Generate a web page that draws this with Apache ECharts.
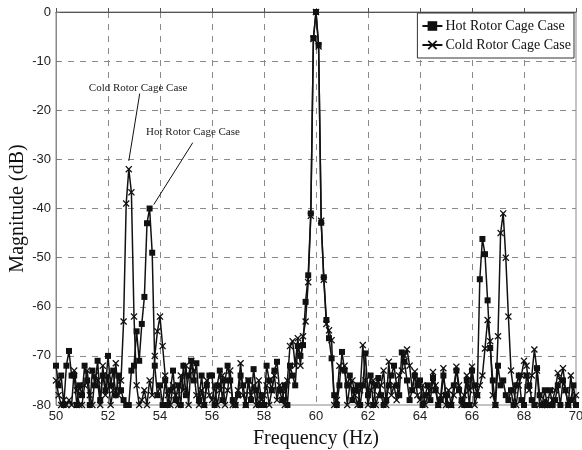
<!DOCTYPE html>
<html>
<head>
<meta charset="utf-8">
<script src="https://cdn.jsdelivr.net/npm/echarts@6/dist/echarts.min.js"></script>
<style>
html,body{margin:0;padding:0;background:#fff;}
#chart{width:582px;height:450px;}
</style>
</head>
<body>
<div id="chart"></div>
<script>
// Frequency grid of the spectrum (Hz): start and bin step
var freqStart = 50;
var freqStep = 0.1;

var seriesNames = ['Hot Rotor Cage Case', 'Cold Rotor Cage Case'];

// Magnitude (dB), one value per 0.1 Hz bin from 50.0 to 70.0 Hz
var hotRotor = [
  -72, -76, -74, -80, -72, -69, -74, -74, -80, -76,
  -78, -72, -75, -80, -73, -76, -71, -79, -74, -77,
  -70, -76, -73, -78, -74, -77, -79, -80, -80, -73,
  -72, -65, -71, -63.5, -58, -43, -40, -49, -72, -78,
  -76, -80, -75, -80, -77, -73, -79, -76, -80, -72,
  -78, -74, -71, -75, -71.5, -79, -74, -80, -76, -74,
  -74, -80, -76, -73, -79, -75, -72, -75, -79, -80,
  -78, -74, -76, -80, -75, -79, -72.7, -77, -80, -78,
  -80, -72, -75, -77, -73, -71.2, -77, -79, -76, -80,
  -72, -74, -76, -68, -70, -67.8, -59, -53.6, -41, -5.3,
  0, -6.7, -42.9, -54, -62.7, -66.4, -70.5, -78, -80, -76,
  -69.2, -73, -76, -74, -79, -77, -76, -80, -76, -69.5,
  -78, -74, -80, -76, -74.5, -78, -80, -79, -76, -74,
  -72, -76, -78, -69.3, -71.2, -75, -79, -77, -74, -76,
  -75, -80, -78, -76, -79, -74.5, -77, -80, -79, -74,
  -78, -80, -80, -76, -73, -77, -79, -80, -75, -80,
  -73, -76, -78, -54.4, -46.2, -49.3, -58.7, -68.4, -75, -80,
  -72, -76, -75, -78, -79, -77, -80, -76, -74, -79,
  -80, -74, -76, -79, -80, -72.5, -78, -80, -77, -80,
  -77, -80, -79, -76, -80, -75, -77, -80, -79, -76,
  -80
];

var coldRotor = [
  -75, -78, -80, -79, -80, -79, -80, -73, -77, -80,
  -80, -76, -73, -78, -80, -74, -75, -80, -72, -78,
  -74, -80, -77, -71.5, -78, -75, -63, -39, -32, -36.7,
  -62, -76, -80, -79, -77, -80, -75, -78, -70, -65,
  -62, -68, -74, -78, -80, -76, -78, -80, -74, -77,
  -72, -80, -71, -73, -78, -80, -77, -80, -75, -78,
  -79, -76, -80, -77, -74, -80, -77, -73, -80, -80,
  -77, -71.5, -78, -80, -75, -78, -76, -80, -75, -79,
  -78, -76, -80, -77, -74, -79, -76, -77, -80, -75,
  -68, -67, -72, -66.4, -72, -66, -63, -55, -41.5, -5.5,
  0, -7, -42.5, -54.5, -63.5, -64.8, -66.8, -80, -79, -72,
  -73, -72, -80, -76, -75, -78, -80, -77, -67.8, -75,
  -80, -77, -75, -80, -78, -76, -73, -80, -71.2, -78,
  -76, -79, -74, -73, -70, -68.7, -72, -77, -73.2, -78,
  -79, -76, -80, -78, -77, -73.3, -76, -80, -78, -72.5,
  -80, -77, -80, -78, -72.2, -76, -80, -78, -74, -77,
  -72.2, -80, -78, -76, -74, -68.5, -62.7, -67, -78, -80,
  -66, -45, -41, -50, -62, -73, -77, -80, -76, -74,
  -71, -72, -77, -74, -68.7, -73, -80, -80, -79, -80,
  -80, -79, -77, -73.5, -75, -72.5, -77, -80, -74, -79,
  -78
];

// Annotations: text anchor and arrow [from, to] in data coordinates
var coldNote = { text: 'Cold Rotor Cage Case', at: [53.16, -15.5], from: [53.22, -16.6], to: [52.8, -30.3] };
var hotNote  = { text: 'Hot Rotor Cage Case',  at: [55.27, -24.4], from: [55.26, -26.6], to: [53.76, -39.2] };

function pairs(values) {
  return values.map(function (v, i) {
    return [Math.round((freqStart + i * freqStep) * 10) / 10, v];
  });
}

var serif = '"Liberation Serif", "Times New Roman", serif';
var sans = '"Liberation Sans", Arial, sans-serif';
var ink = '#111';
var xSymbol = 'path://M0,1.3L1.3,0L5,3.7L8.7,0L10,1.3L6.3,5L10,8.7L8.7,10L5,6.3L1.3,10L0,8.7L3.7,5Z';

function noteLabel(n) {
  return {
    coord: n.at, symbol: 'circle', symbolSize: 0,
    label: { show: true, position: 'inside', formatter: n.text,
             fontFamily: serif, fontSize: 11, color: '#222' }
  };
}

var chart = echarts.init(document.getElementById('chart'), null, { renderer: 'canvas' });
chart.setOption({
  animation: false,
  backgroundColor: '#fff',
  grid: { left: 56, right: 6, top: 12, bottom: 45, show: true, borderColor: '#888', borderWidth: 1,
          containLabel: false, outerBoundsMode: 'none' },
  legend: {
    right: 8, top: 13, orient: 'vertical',
    data: seriesNames,
    backgroundColor: '#fff', borderColor: '#333', borderWidth: 1,
    padding: [6, 3, 6, 4], itemGap: 5, itemWidth: 20, itemHeight: 12,
    textStyle: { fontFamily: serif, fontSize: 14, color: '#111', padding: [0, 0, 0, -2] }
  },
  xAxis: {
    type: 'value', min: 50, max: 70, interval: 2,
    name: 'Frequency (Hz)', nameLocation: 'middle', nameGap: 24, nameMoveOverlap: false,
    nameTextStyle: { fontFamily: serif, fontSize: 20, color: '#111' },
    axisLine: { show: true, lineStyle: { color: '#555', width: 1 } },
    axisTick: { show: true, inside: true, length: 4, lineStyle: { color: '#555' } },
    axisLabel: { fontFamily: sans, fontSize: 13, color: '#222', margin: 5 },
    splitLine: { show: true, showMinLine: false, showMaxLine: false,
                 lineStyle: { color: '#8a8a8a', type: [6, 6], width: 1 } }
  },
  yAxis: {
    type: 'value', min: -80, max: 0, interval: 10,
    name: 'Magnitude (dB)', nameLocation: 'middle', nameGap: 28, nameMoveOverlap: false,
    nameTextStyle: { fontFamily: serif, fontSize: 20, color: '#111' },
    axisLine: { show: true, lineStyle: { color: '#888', width: 1 } },
    axisTick: { show: true, inside: true, length: 4, lineStyle: { color: '#777' } },
    axisLabel: { fontFamily: sans, fontSize: 13, color: '#222', margin: 5 },
    splitLine: { show: true, showMinLine: false, showMaxLine: false,
                 lineStyle: { color: '#8a8a8a', type: [6, 6], width: 1 } }
  },
  series: [
    {
      name: seriesNames[0], type: 'line', data: pairs(hotRotor),
      symbol: 'rect', symbolSize: 6, showAllSymbol: true,
      lineStyle: { color: ink, width: 1.5 }, itemStyle: { color: ink },
      z: 3
    },
    {
      name: seriesNames[1], type: 'line', data: pairs(coldRotor),
      symbol: xSymbol, symbolSize: 7, showAllSymbol: true,
      lineStyle: { color: ink, width: 1.5 }, itemStyle: { color: ink },
      z: 2,
      markLine: {
        silent: true, symbol: ['none', 'arrow'], symbolSize: [0, 7],
        lineStyle: { color: ink, width: 1, type: 'solid' },
        label: { show: false },
        data: [
          [{ coord: coldNote.from }, { coord: coldNote.to }],
          [{ coord: hotNote.from }, { coord: hotNote.to }]
        ]
      },
      markPoint: {
        silent: true,
        data: [noteLabel(coldNote), noteLabel(hotNote)]
      }
    }
  ]
});
</script>
</body>
</html>
